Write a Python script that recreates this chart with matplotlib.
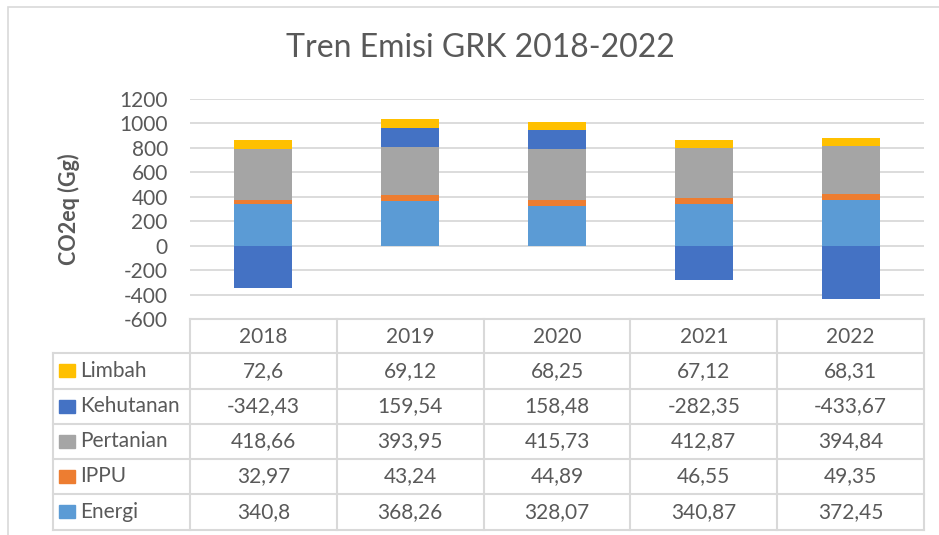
import matplotlib.pyplot as plt
from matplotlib.patches import Rectangle
import numpy as np

plt.rcParams['font.family'] = ['Lato', 'DejaVu Sans']
plt.rcParams['axes.unicode_minus'] = False

years = ['2018', '2019', '2020', '2021', '2022']
sectors = ['Energi', 'IPPU', 'Pertanian', 'Kehutanan', 'Limbah']
energi = [340.8, 368.26, 328.07, 340.87, 372.45]
ippu = [32.97, 43.24, 44.89, 46.55, 49.35]
pertanian = [418.66, 393.95, 415.73, 412.87, 394.84]
kehutanan = [-342.43, 159.54, 158.48, -282.35, -433.67]
limbah = [72.6, 69.12, 68.25, 67.12, 68.31]
colors = ['#5B9BD5', '#ED7D31', '#A5A5A5', '#4472C4', '#FFC000']

series = [energi, ippu, pertanian, kehutanan, limbah]
txt = '#595959'
grid = '#D9D9D9'

W, H = 939, 535
fig = plt.figure(figsize=(W / 100, H / 100), dpi=100)

# outer chart frame
fig.patches.append(Rectangle((8 / W, -0.1), 1.2, (H - 7) / H + 0.1, transform=fig.transFigure,
                             fill=False, edgecolor=grid, lw=1.2))

def fx(px):
    return px / W

def fy(py):
    return 1 - py / H

left, right, top, bottom = 190, 924, 99, 319
ax = fig.add_axes([fx(left), fy(bottom), fx(right) - fx(left), fy(top) - fy(bottom)])

x = np.arange(len(years))
pos = np.zeros(len(years))
neg = np.zeros(len(years))
for vals, c in zip(series, colors):
    v = np.array(vals)
    base = np.where(v >= 0, pos, neg)
    ax.bar(x, v, bottom=base, width=0.395, color=c, zorder=3)
    pos = pos + np.where(v >= 0, v, 0)
    neg = neg + np.where(v < 0, v, 0)

ax.set_xlim(-0.5, len(years) - 0.5)
ax.set_ylim(-600, 1200)
ax.set_yticks(range(-600, 1201, 200))
ax.set_xticks([])
ax.tick_params(axis='y', length=0, pad=16, labelsize=15, labelcolor=txt)
ax.grid(axis='y', color=grid, lw=1.3, zorder=0)
for s in ax.spines.values():
    s.set_visible(False)
ax.set_ylabel('CO2eq (Gg)', fontsize=15.5, color=txt, fontweight='bold', labelpad=28)

fig.text(0.512, fy(48), 'Tren Emisi GRK 2018-2022', ha='center', va='center',
         fontsize=23, color=txt)

# data table under the plot
tl, tr, tt, tb = 53, 924, 319, 530
tab = fig.add_axes([fx(tl), fy(tb), fx(tr) - fx(tl), fy(tt) - fy(tb)])
tab.set_xlim(tl, tr)
tab.set_ylim(tb, tt)
tab.axis('off')
rows_y = [319, 353, 389, 424, 459, 494, 530]
col_w = (tr - left) / len(years)
cols_x = [left + i * col_w for i in range(len(years) + 1)]

tab.plot([left, tr], [rows_y[0], rows_y[0]], color=grid, lw=1.5, clip_on=False)
for yy in rows_y[1:]:
    tab.plot([tl, tr], [yy, yy], color=grid, lw=1.5, clip_on=False)
tab.plot([tl, tl], [rows_y[1], rows_y[-1]], color=grid, lw=1.5, clip_on=False)
for xx in cols_x:
    tab.plot([xx, xx], [rows_y[0], rows_y[-1]], color=grid, lw=1.5, clip_on=False)

for i, yr in enumerate(years):
    tab.text(cols_x[i] + col_w / 2, (rows_y[0] + rows_y[1]) / 2 + 1, yr,
             ha='center', va='center', fontsize=15, color=txt)

order = list(range(len(sectors)))[::-1]
for r, k in enumerate(order):
    yc = (rows_y[r + 1] + rows_y[r + 2]) / 2
    tab.add_patch(Rectangle((59, yc - 6.5), 16, 13, color=colors[k], clip_on=False))
    tab.text(80, yc, sectors[k], ha='left', va='center', fontsize=15, color=txt)
    for i, v in enumerate(series[k]):
        tab.text(cols_x[i] + col_w / 2, yc, f'{v:g}'.replace('.', ','),
                 ha='center', va='center', fontsize=15, color=txt)

fig.savefig('out.png', dpi=100)
